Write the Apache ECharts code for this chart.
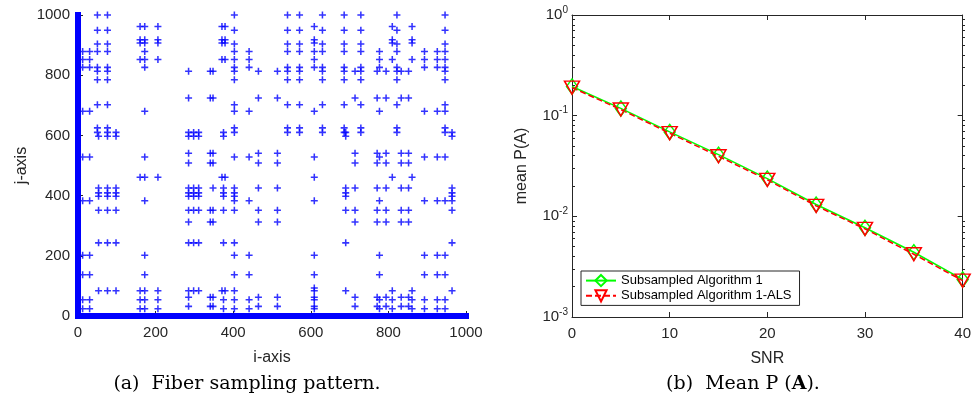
<!DOCTYPE html>
<html>
<head>
<meta charset="utf-8">
<script src="https://cdn.jsdelivr.net/npm/echarts@6/dist/echarts.min.js"></script>
<style>
  html, body { margin: 0; padding: 0; background: #fff; }
  #chart { width: 974px; height: 406px; }
</style>
</head>
<body>
<div id="chart"></div>
<script>
// (a) fiber sampling pattern: each row is [j, list of sampled i]
var fiberRows = [
  [1000, [50, 76, 403, 540, 571, 630, 686, 729, 822, 946]],
  [962, [160, 172, 206, 371, 379, 609, 810, 861]],
  [949, [50, 76, 403, 540, 571, 630, 686, 729, 822, 946]],
  [918, [160, 172, 206, 371, 379, 609, 810, 861]],
  [907, [160, 172, 206, 371, 379, 609, 810, 861]],
  [904, [50, 76, 403, 540, 571, 630, 686, 729, 822, 946]],
  [879, [12, 30, 50, 76, 172, 403, 441, 540, 571, 609, 630, 686, 729, 777, 822, 893, 926, 946]],
  [852, [12, 30, 160, 172, 206, 371, 379, 403, 441, 609, 777, 810, 861, 893, 926, 946]],
  [826, [12, 30, 50, 76, 172, 403, 441, 540, 571, 609, 630, 686, 729, 777, 822, 893, 926, 946]],
  [813, [50, 76, 285, 341, 348, 403, 465, 514, 540, 571, 630, 686, 714, 729, 771, 794, 822, 833, 852, 946]],
  [785, [50, 76, 403, 540, 571, 630, 686, 729, 822, 946]],
  [724, [285, 341, 348, 465, 514, 714, 771, 794, 833, 852]],
  [702, [50, 76, 403, 540, 571, 630, 686, 729, 822, 946]],
  [680, [12, 30, 172, 403, 441, 609, 777, 893, 926, 946]],
  [625, [50, 76, 403, 540, 571, 630, 686, 729, 822, 946]],
  [610, [50, 76, 98, 285, 298, 311, 375, 403, 540, 571, 630, 686, 690, 729, 822, 946, 964]],
  [597, [53, 76, 98, 285, 298, 311, 375, 690, 964]],
  [541, [285, 341, 348, 465, 514, 714, 771, 794, 833, 852]],
  [528, [12, 30, 172, 403, 441, 609, 777, 893, 926, 946]],
  [508, [285, 341, 348, 465, 514, 714, 771, 794, 833, 852]],
  [461, [160, 172, 206, 371, 379, 609, 810, 861]],
  [425, [53, 76, 98, 285, 298, 311, 348, 375, 403, 465, 514, 690, 714, 771, 794, 833, 852, 964]],
  [409, [53, 76, 98, 285, 298, 311, 375, 403, 690, 964]],
  [398, [53, 76, 98, 285, 298, 311, 375, 403, 690, 964]],
  [383, [12, 30, 172, 403, 441, 609, 777, 893, 926, 946, 964]],
  [351, [53, 76, 98, 285, 298, 311, 341, 348, 375, 403, 465, 514, 690, 714, 771, 794, 833, 852, 964]],
  [312, [285, 341, 348, 465, 514, 714, 771, 794, 833, 852]],
  [243, [53, 76, 98, 285, 298, 311, 375, 403, 690, 964]],
  [202, [12, 30, 172, 403, 441, 609, 777, 893, 926, 946]],
  [137, [12, 30, 172, 403, 441, 609, 777, 893, 926, 946]],
  [93, [609]],
  [84, [53, 76, 98, 160, 172, 206, 285, 298, 311, 371, 379, 403, 609, 690, 810, 861, 964]],
  [62, [285, 341, 348, 465, 514, 609, 714, 771, 794, 833, 852]],
  [54, [12, 30, 160, 172, 206, 375, 403, 441, 609, 777, 810, 861, 893, 926, 946]],
  [32, [285, 341, 348, 465, 514, 609, 714, 771, 794, 833, 852]],
  [24, [12, 30, 160, 172, 206, 375, 403, 441, 609, 777, 810, 861, 893, 926, 946]]
];
// fully sampled fibers along the two axes
var fiberAlongJ = [[0, 0], [0, 1000]];
var fiberAlongI = [[0, 0], [1000, 0]];

// (b) mean P(A) vs SNR
var snr = [0, 5, 10, 15, 20, 25, 30, 35, 40];
var alg1 = [0.195, 0.118, 0.069, 0.041, 0.0237, 0.0131, 0.0077, 0.0044, 0.00236];
var alg1Als = [0.19, 0.115, 0.067, 0.0395, 0.023, 0.0127, 0.0075, 0.0042, 0.0023];
var minorTicksB = [0.002, 0.003, 0.004, 0.005, 0.006, 0.007, 0.008, 0.009,
  0.02, 0.03, 0.04, 0.05, 0.06, 0.07, 0.08, 0.09,
  0.2, 0.3, 0.4, 0.5, 0.6, 0.7, 0.8, 0.9];

var fiberPoints = [];
fiberRows.forEach(function (r) {
  r[1].forEach(function (i) { fiberPoints.push([i, r[0]]); });
});
var minorLog = minorTicksB.map(function (v) { return Math.log10(v); });

var font = 'Liberation Sans, Arial, sans-serif';
var ink = '#262626';
var plus = 'path://M3.9,0H6.1V3.9H10V6.1H6.1V10H3.9V6.1H0V3.9H3.9Z';
var captionFont = '19px "DejaVu Serif", serif';

var tickBase = {
  axisLine: { show: true, onZero: false, lineStyle: { color: ink, width: 1 } },
  axisTick: { show: true, inside: true, length: 5, lineStyle: { color: ink } },
  splitLine: { show: false }
};

function expLabel(v) {
  return '{b|10}{e|' + Math.round(Math.log10(v)) + '}';
}
function plainLabel(v) {
  return String(v);
}
// extra axes that only carry the 2..9 minor ticks of the log scale
function minorAxis(pos, grid) {
  return {
    gridIndex: grid, type: 'value', min: -3, max: 0, position: pos,
    axisLine: { show: false, onZero: false }, axisLabel: { show: false }, splitLine: { show: false },
    axisTick: { show: true, inside: true, length: 3, lineStyle: { color: ink }, customValues: minorLog }
  };
}

var chart = echarts.init(document.getElementById('chart'));
chart.setOption({
  animation: false,
  backgroundColor: '#fff',
  grid: [
    { left: 78, top: 15, width: 388, height: 301 },
    { left: 572, top: 15, width: 393, height: 302 },
    { left: 572, top: 15, width: 393, height: 302 },
    { left: 572, top: 15, width: 393, height: 302 }
  ],
  xAxis: [
    Object.assign({}, tickBase, {
      gridIndex: 0, type: 'value', min: 0, max: 1000, interval: 200,
      axisLabel: { color: ink, fontSize: 15, fontFamily: font, margin: 9, formatter: plainLabel },
      name: 'i-axis', nameLocation: 'middle', nameGap: 34,
      nameTextStyle: { color: ink, fontSize: 16, fontFamily: font }
    }),
    Object.assign({}, tickBase, {
      gridIndex: 1, type: 'value', min: 0, max: 40, interval: 10,
      axisLabel: { color: ink, fontSize: 15, fontFamily: font, margin: 9 },
      name: 'SNR', nameLocation: 'middle', nameGap: 34,
      nameTextStyle: { color: ink, fontSize: 16, fontFamily: font }
    }),
    Object.assign({}, tickBase, {
      gridIndex: 1, type: 'value', min: 0, max: 40, interval: 10, position: 'top',
      axisLabel: { show: false }
    }),
    { gridIndex: 2, type: 'value', min: 0, max: 40, show: false },
    { gridIndex: 3, type: 'value', min: 0, max: 40, show: false }
  ],
  yAxis: [
    Object.assign({}, tickBase, {
      gridIndex: 0, type: 'value', min: 0, max: 1000, interval: 200,
      axisLabel: { color: ink, fontSize: 15, fontFamily: font, margin: 8, formatter: plainLabel },
      name: 'j-axis', nameLocation: 'middle', nameGap: 48,
      nameTextStyle: { color: ink, fontSize: 16, fontFamily: font }
    }),
    Object.assign({}, tickBase, {
      gridIndex: 1, type: 'log', logBase: 10, min: 0.001, max: 1,
      axisLabel: {
        color: ink, fontFamily: font, margin: 4, formatter: expLabel,
        rich: {
          b: { fontSize: 15, color: ink, fontFamily: font },
          e: { fontSize: 10, color: ink, fontFamily: font, padding: [0, 0, 10, 0] }
        }
      },
      name: 'mean P(A)', nameLocation: 'middle', nameGap: 42,
      nameTextStyle: { color: ink, fontSize: 16, fontFamily: font }
    }),
    Object.assign({}, tickBase, {
      gridIndex: 1, type: 'log', logBase: 10, min: 0.001, max: 1, position: 'right',
      axisLabel: { show: false }
    }),
    minorAxis('left', 2),
    minorAxis('right', 3)
  ],
  legend: {
    data: ['Subsampled Algorithm 1', 'Subsampled Algorithm 1-ALS'],
    orient: 'vertical',
    left: 581, top: 271,
    padding: [3, 8, 3, 4],
    itemGap: 2, itemWidth: 30, itemHeight: 14,
    backgroundColor: '#fff', borderColor: ink, borderWidth: 1,
    textStyle: { color: '#000', fontSize: 13, fontFamily: font }
  },
  series: [
    {
      type: 'line', xAxisIndex: 0, yAxisIndex: 0, data: fiberAlongJ,
      symbol: 'none', silent: true,
      lineStyle: { color: '#0000ff', width: 6, cap: 'square' }
    },
    {
      type: 'line', xAxisIndex: 0, yAxisIndex: 0, data: fiberAlongI,
      symbol: 'none', silent: true,
      lineStyle: { color: '#0000ff', width: 6, cap: 'square' }
    },
    {
      type: 'scatter', xAxisIndex: 0, yAxisIndex: 0, data: fiberPoints,
      symbol: plus, symbolSize: 7,
      itemStyle: { color: '#0000ff' }
    },
    {
      name: 'Subsampled Algorithm 1',
      type: 'line', xAxisIndex: 1, yAxisIndex: 1,
      data: snr.map(function (s, k) { return [s, alg1[k]]; }),
      symbol: 'diamond', symbolSize: [11, 15], showAllSymbol: true,
      lineStyle: { color: '#00ff00', width: 1.5 },
      itemStyle: { color: 'rgba(0,0,0,0)', borderColor: '#00ff00', borderWidth: 1.5 }
    },
    {
      name: 'Subsampled Algorithm 1-ALS',
      type: 'line', xAxisIndex: 1, yAxisIndex: 1,
      data: snr.map(function (s, k) { return [s, alg1Als[k]]; }),
      symbol: 'triangle', symbolRotate: 180, symbolSize: [15, 13], showAllSymbol: true,
      lineStyle: { color: '#ff0000', width: 1.5, type: [6, 3] },
      itemStyle: { color: 'rgba(0,0,0,0)', borderColor: '#ff0000', borderWidth: 1.5 }
    }
  ],
  graphic: [
    {
      type: 'text', x: 247, y: 384,
      style: { text: '(a)  Fiber sampling pattern.', fill: '#000', font: captionFont,
        textAlign: 'center', textVerticalAlign: 'middle' }
    },
    {
      type: 'text', x: 743, y: 384,
      style: {
        text: '{n|(b)  Mean P (}{bold|A}{n|).}', fill: '#000', textAlign: 'center', textVerticalAlign: 'middle',
        rich: {
          n: { font: captionFont, fill: '#000' },
          bold: { font: 'bold ' + captionFont, fill: '#000' }
        }
      }
    }
  ]
});
</script>
</body>
</html>
